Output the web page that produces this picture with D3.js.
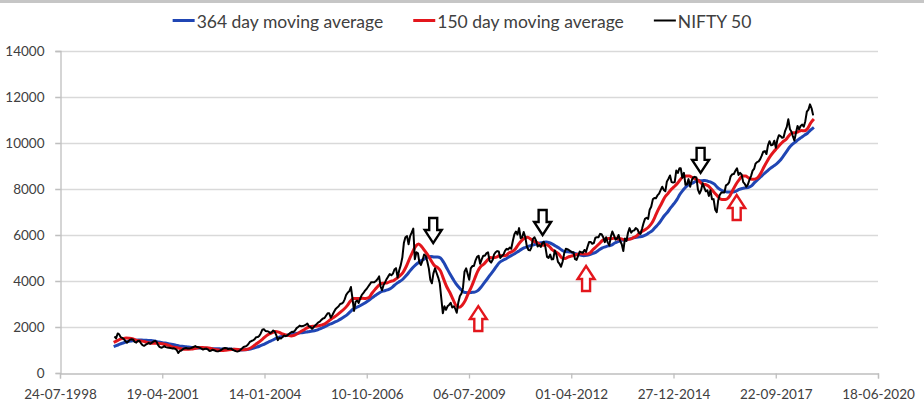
<!DOCTYPE html>
<html><head><meta charset="utf-8">
<script src="https://cdn.jsdelivr.net/npm/d3@7"></script>
<style>
body{margin:0;background:#fff;overflow:hidden;}
text{font-family:Lato,"Open Sans",sans-serif;}
</style></head><body>
<svg id="c" width="924" height="419"></svg>
<script>
// ---------- data ----------
const xTickLabels = ["24-07-1998","19-04-2001","14-01-2004","10-10-2006","06-07-2009","01-04-2012","27-12-2014","22-09-2017","18-06-2020"];
const yTicks = [0,2000,4000,6000,8000,10000,12000,14000];
const seriesNames = ["364 day moving average","150 day moving average","NIFTY 50"];
const seriesColors = ["#2046b4","#e3161c","#000000"];

// NIFTY 50, two readings per month (early / late), from Jan 2000
const niftyStartMonth = "2000-01";
const nifty = [
1590,1500,1720,1680,1560,1530,1480,1390,1320,1380,1450,1470,1460,1350,1320,1390,1400,1290,1210,1180,1230,1270,1310,1270,
1320,1370,1400,1350,1220,1140,1100,1120,1170,1125,1110,1100,1090,1070,1080,1050,1000,870,960,980,1040,1070,1090,1060,
1060,1080,1110,1140,1170,1130,1120,1090,1060,1020,1050,1060,1030,960,970,1010,990,960,940,950,980,1020,1070,1090,
1080,1040,1050,1060,1010,980,950,930,950,1000,1070,1130,1150,1180,1250,1350,1390,1420,1460,1550,1560,1610,1720,1880,
1900,1830,1820,1800,1740,1770,1850,1800,1650,1430,1530,1500,1560,1630,1600,1630,1690,1750,1790,1780,1850,1950,2000,2060,
2030,2040,2070,2100,2150,2030,2000,1920,1990,2070,2130,2200,2230,2310,2370,2390,2500,2600,2600,2400,2520,2650,2770,2840,
2900,3000,3020,3080,3200,3400,3500,3560,3740,3250,2700,3100,3150,3050,3250,3400,3480,3580,3650,3750,3850,3950,3950,3950,
4000,4080,4200,3750,3600,3820,3950,4090,4200,4300,4250,4320,4500,4560,4150,4460,4700,5020,5650,5900,5950,5600,5950,6100,
6280,4950,5250,5200,4800,4700,4900,5150,5100,4870,4550,4050,3900,4330,4550,4350,4150,3900,3250,2600,2900,2750,2900,2960,
3050,2850,2900,2780,2620,3050,3350,3450,3700,4400,4550,4300,4050,4550,4650,4650,4900,5050,5100,4750,4950,5100,5100,5200,
5250,4880,4800,4920,5150,5250,5300,5280,5000,5090,5150,5310,5400,5370,5450,5400,5750,6030,6150,6020,6300,5860,5900,6130,
5900,5500,5350,5330,5450,5830,5900,5750,5500,5560,5480,5650,5700,5480,5050,5000,5150,4940,4950,5330,5150,4830,4750,4620,
4850,5200,5400,5380,5350,5300,5250,5250,4950,4920,5100,5280,5250,5230,5350,5260,5500,5700,5700,5620,5650,5880,5900,5900,
6050,6030,5900,5690,5900,5680,5550,5930,6150,5990,5800,5840,6000,5740,5600,5300,5850,5740,6100,6300,6100,6180,6200,6300,
6250,6090,6050,6280,6500,6700,6750,6700,7100,7230,7550,7610,7600,7720,7800,7950,8100,7960,7900,8320,8450,8590,8300,8280,
8300,8800,8700,8900,8900,8490,8700,8180,8200,8430,8100,8370,8500,8530,8500,7970,7800,7950,8250,8070,7900,7940,7700,7950,
7550,7560,7100,6990,7500,7740,7850,7850,7850,8160,8200,8290,8550,8640,8650,8790,8900,8610,8700,8630,8300,8220,8100,8190,
8400,8560,8800,8880,9100,9170,9200,9300,9450,9620,9650,9520,9900,10080,9900,9920,10100,9790,10150,10340,10300,10230,10250,10530,
10700,11030,10600,10490,10300,10110,10450,10740,10600,10740,10800,10710,10950,11360,11450,11680,11500,11200
];

// moving averages, one reading per month end, from Dec 1999
const maStartMonth = "1999-12";
const ma150 = [
1330,
1398,1462,1498,1522,1510,1488,1442,1400,1386,1362,1322,1296,
1290,1290,1286,1258,1230,1188,1132,1106,1078,1048,1038,1038,
1040,1068,1098,1108,1102,1094,1072,1037,1012,990,980,994,
1011,1024,1034,1026,1006,1010,1032,1088,1178,1280,1378,1496,
1614,1700,1754,1806,1780,1712,1662,1636,1610,1642,1708,1796,
1872,1948,2010,2034,2028,2058,2094,2150,2258,2360,2444,2546,
2664,2770,2920,3106,3242,3240,3240,3246,3242,3282,3466,3636,
3790,3888,3904,3926,3984,4020,4116,4234,4378,4630,4944,5244,
5510,5610,5490,5310,5120,4890,4680,4590,4440,4080,3750,3500,
3200,2940,2860,2950,3160,3470,3760,4110,4430,4640,4740,4900,
5020,5006,5036,5106,5096,5106,5220,5280,5380,5586,5746,5856,
5906,5826,5720,5680,5590,5550,5590,5500,5350,5270,5180,5010,
4980,5040,5080,5120,5160,5190,5170,5170,5220,5370,5490,5620,
5760,5830,5850,5840,5870,5830,5840,5790,5810,5820,5890,5960,
6090,6170,6250,6360,6530,6800,7100,7360,7620,7790,7960,8090,
8230,8390,8540,8560,8560,8500,8440,8360,8230,8200,8140,8000,
7840,7700,7560,7540,7560,7700,7970,8220,8410,8560,8560,8480,
8420,8430,8500,8700,8970,9210,9430,9610,9760,9910,10050,10150,
10330,10440,10450,10490,10540,10530,10630,10880,11040
];
const ma364 = [
1143,
1198,1259,1306,1348,1375,1404,1423,1433,1437,1423,1418,1408,
1388,1365,1335,1308,1292,1263,1236,1213,1179,1161,1145,1128,
1108,1087,1083,1083,1075,1069,1062,1054,1055,1051,1045,1043,
1042,1037,1024,1011,1003,1007,1020,1045,1080,1124,1173,1229,
1297,1362,1424,1498,1552,1589,1624,1653,1678,1703,1727,1749,
1760,1781,1809,1822,1853,1904,1961,2023,2092,2152,2211,2273,
2353,2434,2531,2658,2779,2846,2912,2988,3068,3163,3272,3366,
3457,3533,3573,3613,3675,3782,3898,3985,4087,4237,4398,4568,
4702,4804,4898,4974,5042,5064,5039,5046,5000,4813,4567,4313,
4083,3888,3717,3583,3496,3492,3504,3517,3579,3729,3904,4088,
4275,4440,4636,4803,4894,4957,5048,5123,5198,5288,5376,5447,
5493,5540,5573,5615,5653,5678,5694,5665,5603,5521,5442,5342,
5279,5275,5254,5208,5163,5129,5100,5117,5154,5204,5258,5354,
5442,5483,5525,5558,5650,5708,5763,5783,5804,5838,5875,5904,
5921,5946,6004,6092,6179,6325,6471,6658,6846,7000,7188,7358,
7550,7771,7954,8104,8204,8258,8329,8371,8358,8375,8333,8292,
8208,8071,7967,7908,7875,7875,7875,7908,7983,8025,8050,8075,
8150,8288,8417,8533,8663,8779,8896,8996,9096,9225,9400,9592,
9792,9933,10038,10146,10246,10342,10433,10567,10679
];

// annotation arrows: [date, value at arrow tip]
const downArrowDates = ["2008-07-21","2011-06-26","2015-09-18"];
const downArrowValues = [5650,6000,8700];
const upArrowDates = ["2009-10-05","2012-08-24","2016-09-05"];
const upArrowValues = [2910,4650,7740];

// ---------- drawing ----------
const svg = d3.select("#c");
const W = 924, H = 419;
const pLeft = 60, pRight = 878, pTop = 51, pBottom = 373;
const textColor = "#404040", axisColor = "#bfbfbf", gridColor = "#d9d9d9";

const parseTick = d3.timeParse("%d-%m-%Y");
const parseDay = d3.timeParse("%Y-%m-%d");
const parseMonth = d3.timeParse("%Y-%m");
const tickDates = xTickLabels.map(parseTick);

const x = d3.scaleTime().domain([tickDates[0], tickDates[tickDates.length-1]]).range([pLeft, pRight]);
const y = d3.scaleLinear().domain([0, 14000]).range([pBottom, pTop]);

// top frame strip
svg.append("rect").attr("x",0).attr("y",0).attr("width",W).attr("height",3).attr("fill","#c6c6c6");

// grid
svg.append("g").selectAll("line").data(yTicks.filter(d=>d>0)).join("line")
  .attr("x1", pLeft-5).attr("x2", pRight).attr("y1", d=>y(d)+0.5).attr("y2", d=>y(d)+0.5)
  .attr("stroke", gridColor).attr("stroke-width",1.3);

// y axis
const yAxis = d3.axisLeft(y).tickValues(yTicks).tickSize(5).tickPadding(11).tickFormat(d3.format("d"));
const gy = svg.append("g").attr("transform",`translate(${pLeft+0.5},0)`).call(yAxis);
gy.select(".domain").attr("stroke",axisColor).attr("stroke-width",1.3);
gy.selectAll(".tick line").attr("stroke",axisColor).attr("stroke-width",1.3);
gy.selectAll("text").attr("fill",textColor).style("font-size","13.5px").style("font-family","Lato");

// x axis
const xAxis = d3.axisBottom(x).tickValues(tickDates).tickSize(5).tickPadding(11).tickFormat(d3.timeFormat("%d-%m-%Y"));
const gx = svg.append("g").attr("transform",`translate(0,${pBottom+0.5})`).call(xAxis);
gx.select(".domain").attr("stroke",axisColor).attr("stroke-width",1.3);
gx.selectAll(".tick line").attr("stroke",axisColor).attr("stroke-width",1.3);
gx.selectAll("text").attr("fill",textColor).style("font-size","13.5px").style("font-family","Lato");

// series dates
const nStart = parseMonth(niftyStartMonth);
const niftyPts = nifty.map((v,i)=>[new Date(nStart.getFullYear(), nStart.getMonth()+Math.floor(i/2), i%2===0?8:23), v]);
const mStart = parseMonth(maStartMonth);
const monthEnd = i => new Date(mStart.getFullYear(), mStart.getMonth()+i+1, 0);
const ma364Pts = ma364.map((v,i)=>[monthEnd(i), v]);
const ma150Pts = ma150.map((v,i)=>[monthEnd(i), v]);

const line = d3.line().x(d=>x(d[0])).y(d=>y(d[1]));
const smooth = d3.line().x(d=>x(d[0])).y(d=>y(d[1])).curve(d3.curveMonotoneX);

svg.append("path").datum(ma364Pts).attr("d",smooth).attr("fill","none")
  .attr("stroke",seriesColors[0]).attr("stroke-width",3).attr("stroke-linejoin","round");
svg.append("path").datum(ma150Pts).attr("d",smooth).attr("fill","none")
  .attr("stroke",seriesColors[1]).attr("stroke-width",3).attr("stroke-linejoin","round");
svg.append("path").datum(niftyPts).attr("d",line).attr("fill","none")
  .attr("stroke",seriesColors[2]).attr("stroke-width",2).attr("stroke-linejoin","round");

// arrows
function arrowPath(ax, tipY, dir){ // dir = 1 down, -1 up
  const L=25, hh=13, shw=4, hw=8.5;
  const b = tipY - dir*L, m = tipY - dir*hh;
  return `M${ax-shw},${b}L${ax+shw},${b}L${ax+shw},${m}L${ax+hw},${m}L${ax},${tipY}L${ax-hw},${m}L${ax-shw},${m}Z`;
}
downArrowDates.forEach((d,i)=>{
  svg.append("path").attr("d",arrowPath(x(parseDay(d)), y(downArrowValues[i]), 1))
    .attr("fill","#fff").attr("stroke","#000").attr("stroke-width",2.4).attr("stroke-linejoin","miter");
});
upArrowDates.forEach((d,i)=>{
  svg.append("path").attr("d",arrowPath(x(parseDay(d)), y(upArrowValues[i]), -1))
    .attr("fill","#fff").attr("stroke","#e3161c").attr("stroke-width",2.4).attr("stroke-linejoin","miter");
});

// legend
const leg = svg.append("g");
const legFont = 17.5, swW = 22, gapText = 2, gapItem = 30, legY = 20;
const items = seriesNames.map((n,i)=>{
  const t = leg.append("text").text(n).attr("fill",textColor).style("font-size",legFont+"px").attr("dominant-baseline","central");
  return {t, w: t.node().getComputedTextLength(), c: seriesColors[i], lw: i===2?2:3};
});
const total = d3.sum(items, d=>swW+gapText+d.w) + gapItem*(items.length-1);
let lx = 462 - total/2;
items.forEach(it=>{
  leg.append("line").attr("x1",lx).attr("x2",lx+swW).attr("y1",legY+0.5).attr("y2",legY+0.5)
    .attr("stroke",it.c).attr("stroke-width",it.lw);
  it.t.attr("x", lx+swW+gapText).attr("y", legY+1);
  lx += swW+gapText+it.w+gapItem;
});
</script></body></html>
